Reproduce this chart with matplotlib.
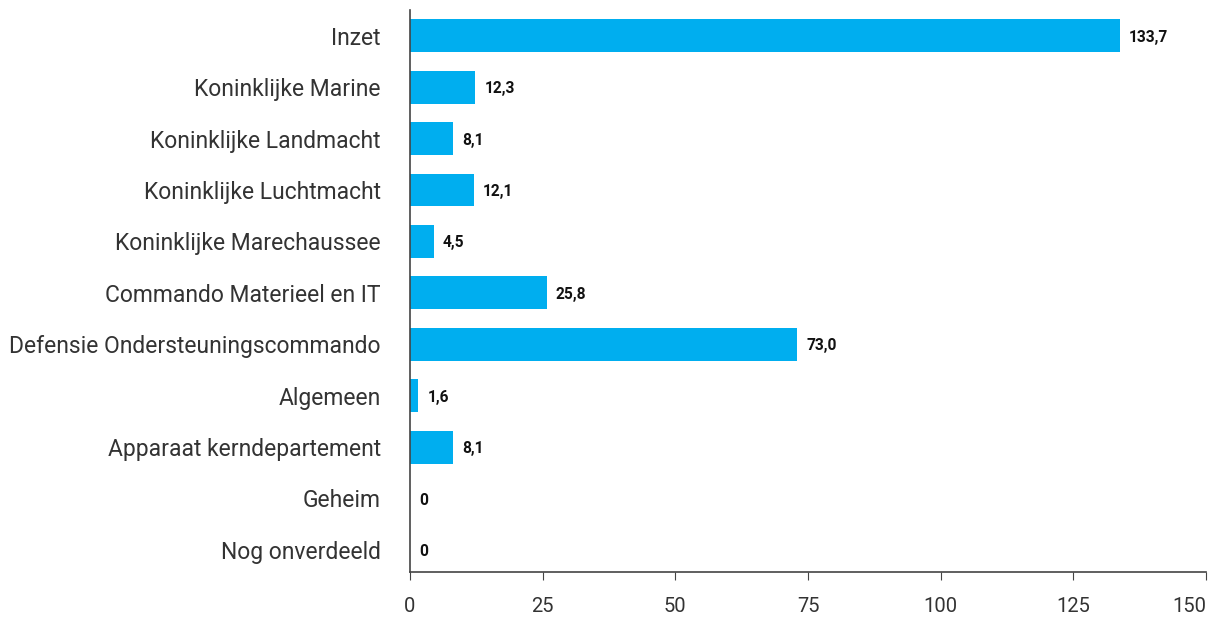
import matplotlib
matplotlib.use("Agg")
import matplotlib.pyplot as plt
import matplotlib.transforms as mtransforms

categories = ["Inzet", "Koninklijke Marine", "Koninklijke Landmacht", "Koninklijke Luchtmacht",
              "Koninklijke Marechaussee", "Commando Materieel en IT", "Defensie Ondersteuningscommando",
              "Algemeen", "Apparaat kerndepartement", "Geheim", "Nog onverdeeld"]
values = [133.7, 12.3, 8.1, 12.1, 4.5, 25.8, 73.0, 1.6, 8.1, 0, 0]
labels = ["133,7", "12,3", "8,1", "12,1", "4,5", "25,8", "73,0", "1,6", "8,1", "0", "0"]
xticks = [0, 25, 50, 75, 100, 125, 150]

plt.rcParams['font.family'] = ['Roboto', 'DejaVu Sans']
fig = plt.figure(figsize=(12.18, 6.17), dpi=100)
ax = fig.add_axes([410/1218, 1-572/617, (1206-410)/1218, (572-10)/617])
y = list(range(len(categories)))
ax.barh(y, values, height=0.64, color="#00AEEF")
for yi, v, lab in zip(y, values, labels):
    ax.text(v + 1.7, yi + 0.03, lab, va="center", ha="left", fontsize=11.2, fontweight="bold", color="#111111")
ax.set_yticks(y)
ax.set_yticklabels(categories, fontsize=16.5, color="#333333")
ax.set_ylim(10.43, -0.5)
ax.set_xlim(0, 150)
ax.set_xticks(xticks)
ax.set_xticklabels([str(t) for t in xticks], fontsize=14.5, color="#333333")
last = ax.get_xticklabels()[-1]
last.set_horizontalalignment("right")
last.set_transform(last.get_transform() + mtransforms.ScaledTranslation(-3/72, 0, fig.dpi_scale_trans))
ax.tick_params(axis="y", length=0, pad=21)
ax.tick_params(axis="x", length=6, color="#444444", pad=12)
for s in ["top", "right"]:
    ax.spines[s].set_visible(False)
for s in ["left", "bottom"]:
    ax.spines[s].set_color("#444444")
    ax.spines[s].set_linewidth(1.2)
fig.savefig("out.png", dpi=100)
